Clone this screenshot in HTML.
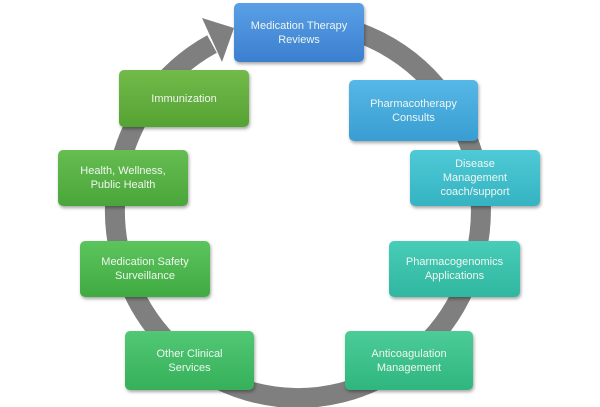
<!DOCTYPE html>
<html><head><style>
body{margin:0;width:600px;height:407px;background:#fff;position:relative;overflow:hidden;font-family:"Liberation Sans",sans-serif}
.b{position:absolute;border-radius:5px;font-size:11px;line-height:14px;display:flex;align-items:center;justify-content:center;text-align:center;box-shadow:1px 2px 3px rgba(0,0,0,.35);color:#f0f6f0}
</style></head><body>
<svg width="600" height="407" style="position:absolute;left:0;top:0">
<path d="M 212 44 A 183 188 0 1 0 300 22" fill="none" stroke="#7f7f7f" stroke-width="20"/>
<polygon points="202,18 234,28 222,62" fill="#7f7f7f"/>
</svg>
<div class="b" style="left:234px;top:3px;width:130px;height:59px;background:linear-gradient(#5aa0e6,#3b7fcf)">Medication Therapy<br>Reviews</div>
<div class="b" style="left:349px;top:80px;width:129px;height:61px;background:linear-gradient(#55b8e6,#3a9dd2)">Pharmacotherapy<br>Consults</div>
<div class="b" style="left:410px;top:150px;width:130px;height:56px;background:linear-gradient(#4fcad6,#35b3c2)">Disease<br>Management<br>coach/support</div>
<div class="b" style="left:389px;top:241px;width:131px;height:56px;background:linear-gradient(#48cdb8,#30b7a0)">Pharmacogenomics<br>Applications</div>
<div class="b" style="left:345px;top:331px;width:128px;height:59px;background:linear-gradient(#4ccc98,#2fb67e)">Anticoagulation<br>Management</div>
<div class="b" style="left:125px;top:331px;width:129px;height:59px;background:linear-gradient(#52c874,#36b05a)">Other Clinical<br>Services</div>
<div class="b" style="left:80px;top:241px;width:130px;height:56px;background:linear-gradient(#5cc45c,#40ab42)">Medication Safety<br>Surveillance</div>
<div class="b" style="left:58px;top:150px;width:130px;height:56px;background:linear-gradient(#66bd52,#4aa63a)">Health, Wellness,<br>Public Health</div>
<div class="b" style="left:119px;top:70px;width:130px;height:57px;background:linear-gradient(#72ba4a,#55a334)">Immunization</div>
</body></html>
